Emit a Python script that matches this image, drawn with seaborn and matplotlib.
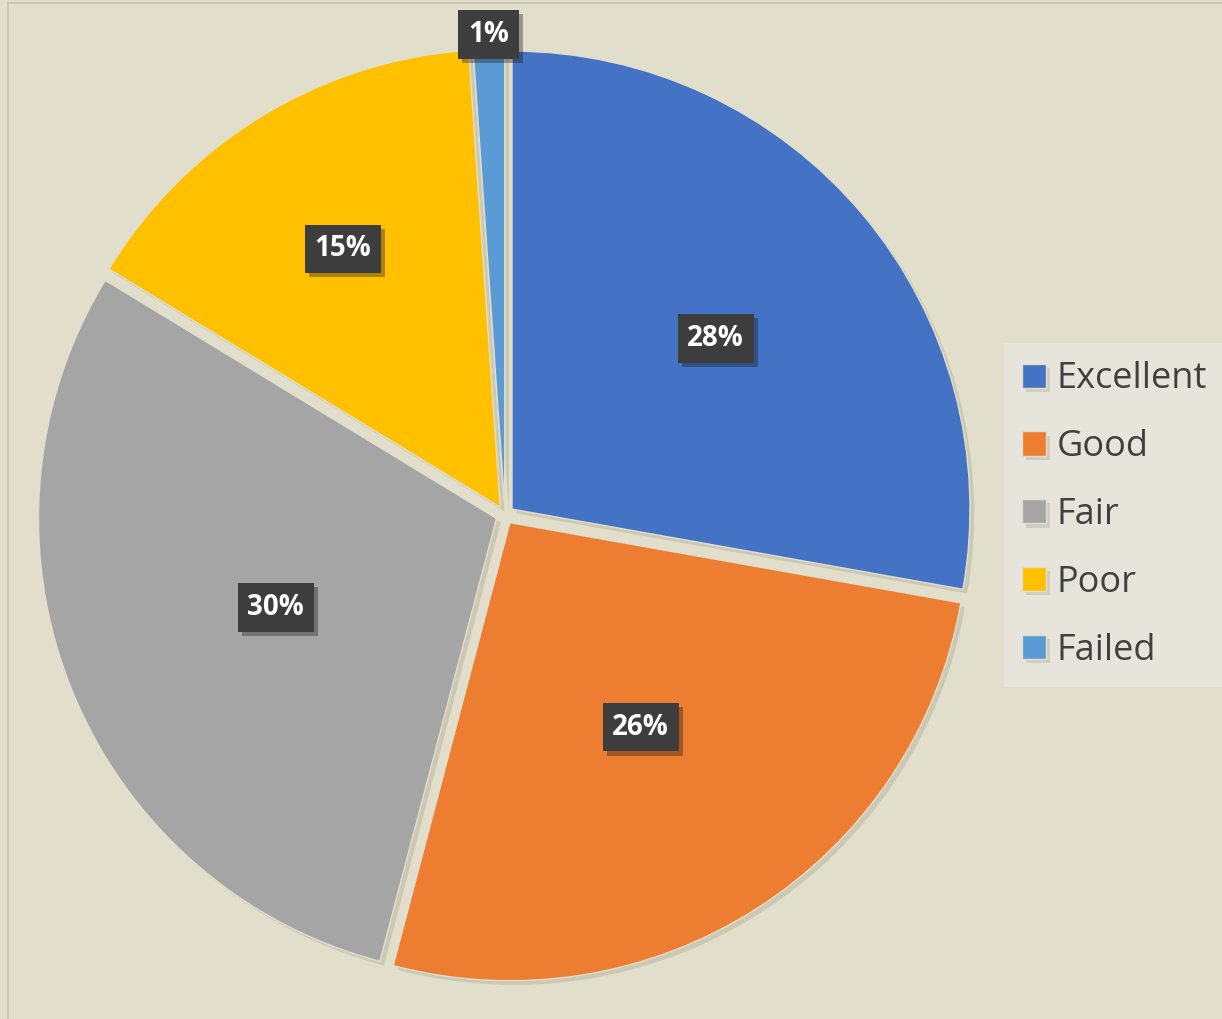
import numpy as np
import matplotlib.pyplot as plt
import matplotlib.patheffects as pe
from matplotlib.patches import Rectangle
import seaborn as sns

# data
categories = ['Excellent', 'Good', 'Fair', 'Poor', 'Failed']
shares = [27.8, 26.3, 29.6, 15.2, 1.1]
colors = ['#4472C4', '#ED7D31', '#A5A5A5', '#FFC000', '#5B9BD5']
# how far from the centre each data label sits (fraction of radius)
label_dist = [0.6, 0.55, 0.54, 0.68, 1.05]

bg = '#E1DECB'
sns.set_theme(style="white", rc={"figure.facecolor": bg, "axes.facecolor": bg})
plt.rcParams['font.family'] = ['Open Sans', 'DejaVu Sans']

W, H = 1222, 1019
fig = plt.figure(figsize=(W / 100, H / 100), dpi=100)

# pie centre / radius in pixels
cx, cy, r = 505, 515, 458
lim = 1.12
side = 2 * lim * r
ax = fig.add_axes([(cx - side / 2) / W, (H - cy - side / 2) / H, side / W, side / H])

wedges, texts, autotexts = ax.pie(
    shares, colors=colors, startangle=90, counterclock=False,
    explode=[0.02] * len(shares), autopct='%.0f%%', pctdistance=0.58,
    wedgeprops=dict(edgecolor=bg, linewidth=1.0),
    textprops=dict(color='white', fontsize=20, fontweight='bold'))
ax.set_xlim(-lim, lim)
ax.set_ylim(-lim, lim)
ax.set_aspect('equal')
ax.axis('off')

for w in wedges:
    w.set_path_effects([pe.SimplePatchShadow(offset=(3, -3), shadow_rgbFace='#8a876f', alpha=0.25),
                        pe.Normal()])

for w, t, d in zip(wedges, autotexts, label_dist):
    ang = np.deg2rad((w.theta1 + w.theta2) / 2)
    t.set_position((d * np.cos(ang), d * np.sin(ang)))
    t.set_bbox(dict(boxstyle='square,pad=0.35', facecolor='#3d3d3d', edgecolor='none'))
    t.get_bbox_patch().set_path_effects([pe.SimplePatchShadow(offset=(3, -3), alpha=0.35),
                                         pe.Normal()])

leg = ax.legend(wedges, categories, loc='center left',
                bbox_to_anchor=((1004 - (cx - side / 2)) / side, 1 - (515 - (cy - side / 2)) / side),
                frameon=True, fancybox=False, fontsize=26, handlelength=0.66, handleheight=0.66,
                handletextpad=0.3, labelspacing=0.88, borderpad=0.5, borderaxespad=0)
leg.get_frame().set_facecolor('#E7E5DB')
leg.get_frame().set_edgecolor('none')
leg.get_frame().set_alpha(1)
for t in leg.get_texts():
    t.set_color('#404040')

# chart area border
fig.add_artist(Rectangle((8 / W, -0.01), 1.2, 1.0 - 3 / H + 0.01, transform=fig.transFigure,
                         fill=False, edgecolor='#c4c2b6', linewidth=1.2))

fig.savefig('out.png', dpi=100, facecolor=bg)
